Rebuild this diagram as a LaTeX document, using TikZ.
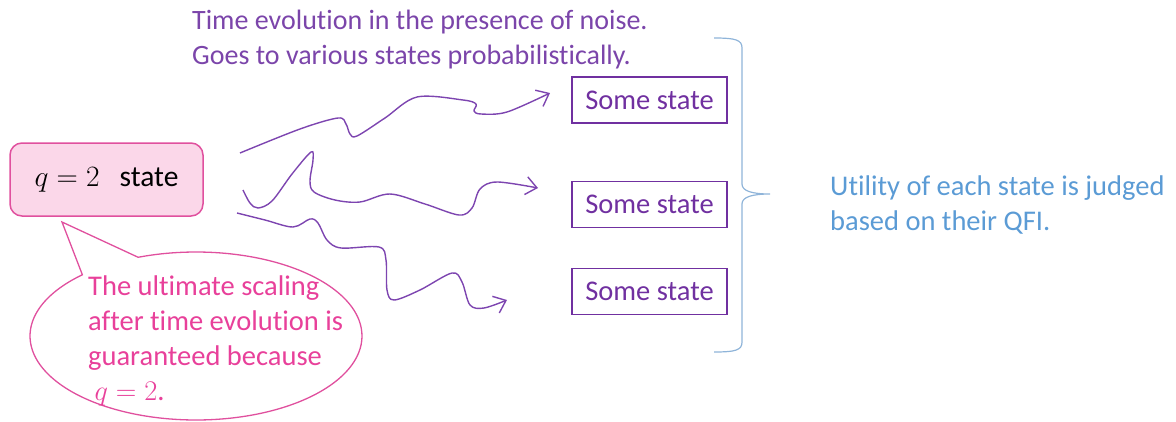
\documentclass[tikz,border=0pt]{standalone}
\usepackage{fix-cm}
\usepackage{fontspec}
\setmainfont{Carlito}[Ligatures={NoCommon}]
\usetikzlibrary{arrows.meta}
\definecolor{purp}{HTML}{7030A0}
\definecolor{wavec}{HTML}{7D45B0}
\definecolor{titlec}{HTML}{7B45AA}
\definecolor{pinkline}{HTML}{E0509E}
\definecolor{pinkfill}{HTML}{FBD7E9}
\definecolor{pinktext}{HTML}{E8409A}
\definecolor{bluec}{HTML}{5B9BD5}
\definecolor{bracec}{HTML}{8FB4D9}
\begin{document}
\begin{tikzpicture}[x=1pt,y=-1pt,
  txt/.style={font=\fontsize{28.5}{35}\selectfont, inner sep=0pt},
  statebox/.style={draw=purp, line width=1.5pt, minimum width=155pt, minimum height=46pt, text=purp, inner sep=0pt, font=\fontsize{28.5}{35}\selectfont},
  wave/.style={draw=wavec, line width=1.4pt, -{Straight Barb[length=11pt,width=18pt,line width=1.4pt]}}
]
\useasboundingbox (0,0) rectangle (1176,421);

% title
\node[txt, text=titlec, anchor=west, align=left, font=\fontsize{28}{35}\selectfont] (title) at (192,40)
  {Time evolution in the presence of noise.\\Goes to various states probabilistically.};

% q=2 state box
\node[draw=pinkline, fill=pinkfill, line width=1.5pt, rounded corners=12pt,
  minimum width=193pt, minimum height=73pt, inner sep=0pt,
  font=\fontsize{29.5}{35}\selectfont] (q) at (106.5,179.5) {$q=2$\ \ \ state};

% speech bubble
\draw[draw=pinkline, line width=1.3pt]
  plot[domain=249.6:586.8, samples=120, smooth] ({196+166*cos(\x)},{336+84*sin(\x)})
  -- (62,222) -- cycle;
\node[txt, text=pinktext, anchor=west, align=left] (note) at (88,341)
  {The ultimate scaling\\after time evolution is\\guaranteed because\\\ $q=2$.};

% state boxes
\node[statebox] (s1) at (649.5,100) {Some state};
\node[statebox] (s2) at (649.5,204.5) {Some state};
\node[statebox] (s3) at (649.5,291.5) {Some state};

% wavy arrows
\coordinate (w1) at (240,153);
\coordinate (w2) at (243,190);
\coordinate (w3) at (237,213);
\coordinate (e1) at (550,93);
\coordinate (e2) at (538,188);
\coordinate (e3) at (507,300);
\draw[wave] plot[smooth, tension=0.55] coordinates {(w1) (300,129) (338,118) (346,124) (350,134) (357,136) (385,118) (417,97) (463,100) (476,104) (474,111) (481,114) (507,112) (e1)};
\draw[wave] plot[smooth, tension=0.55] coordinates {(w2) (250,203) (258,208) (272,201) (292,174) (311,152) (313,160) (310,181) (314,192) (335,200) (360,202) (390,194) (425,204) (459,215) (472,208) (480,189) (497,182) (e2)};
\draw[wave] plot[smooth, tension=0.55] coordinates {(w3) (265,220) (293,227) (310,219) (318,223) (327,240) (341,248) (379,247) (386,260) (387,290) (394,300) (420,290) (452,273) (462,282) (470,305) (484,308) (e3)};

% brace
\coordinate (bt) at (714,38);
\coordinate (bm) at (770,194);
\coordinate (bb) at (714,352);
\draw[draw=bracec, line width=1.2pt]
  (bt) .. controls (736,38) and (742,40) .. (742,48)
  -- (742,184) .. controls (742,191) and (752,194) .. (bm)
  .. controls (752,194) and (742,197) .. (742,204)
  -- (742,342) .. controls (742,350) and (736,352) .. (bb);

% QFI text
\node[txt, text=bluec, anchor=west, align=left] (qfi) at (830,204.5)
  {Utility of each state is judged\\based on their QFI.};
\end{tikzpicture}
\end{document}
